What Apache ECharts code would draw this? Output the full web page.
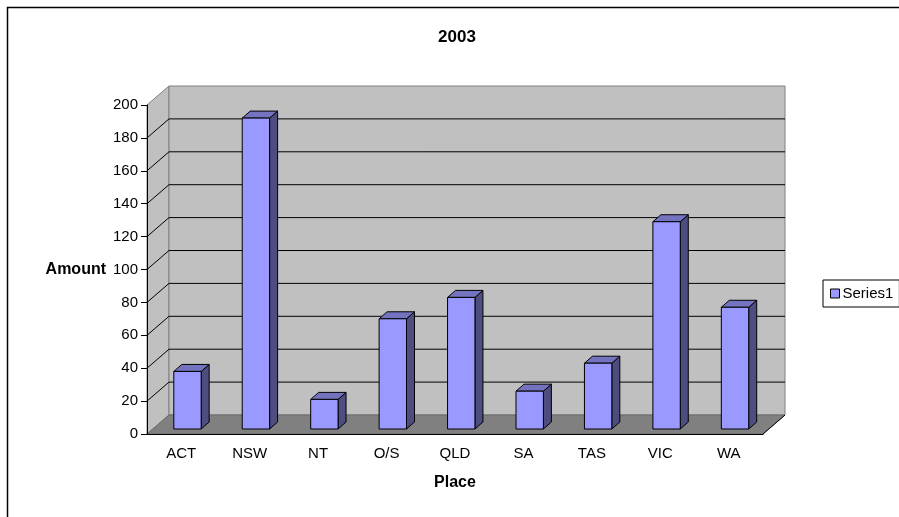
<!DOCTYPE html>
<html>
<head>
<meta charset="utf-8">
<script src="https://cdn.jsdelivr.net/npm/echarts@6/dist/echarts.min.js"></script>
<style>
  html, body { margin: 0; padding: 0; background: #fff; }
  #chart { width: 899px; height: 517px; }
</style>
</head>
<body>
<div id="chart"></div>
<script>
var categories = ['ACT', 'NSW', 'NT', 'O/S', 'QLD', 'SA', 'TAS', 'VIC', 'WA'];
var amounts = [35, 189, 18, 67, 80, 23, 40, 126, 74];
var gridValues = [20, 40, 60, 80, 100, 120, 140, 160, 180];
var yMax = 200;

var font = 'Liberation Sans, Arial, sans-serif';
// depth of the 3d box and of the bars, in pixels
var wallDepth = [22, -19];
var barShift = [6.25, -5];
var barDepth = [8, -7];

function plotEdges(api) {
    var band = api.size([1, 0])[0];
    var c0 = api.coord([0, 0]);
    return {
        left: c0[0] - band / 2,
        right: api.coord([categories.length - 1, 0])[0] + band / 2,
        y0: c0[1],
        band: band
    };
}

// back wall, left wall and floor
function renderWalls(params, api) {
    var e = plotEdges(api);
    var dx = wallDepth[0], dy = wallDepth[1];
    var yTop = api.coord([0, api.value(1)])[1];
    return {
        type: 'group',
        children: [{
            type: 'polygon',
            shape: { points: [[e.left, e.y0], [e.left, yTop], [e.left + dx, yTop + dy], [e.left + dx, e.y0 + dy]] },
            style: { fill: '#c0c0c0', stroke: '#808080', lineWidth: 1 }
        }, {
            type: 'polygon',
            shape: { points: [[e.left + dx, yTop + dy], [e.right + dx, yTop + dy], [e.right + dx, e.y0 + dy], [e.left + dx, e.y0 + dy]] },
            style: { fill: '#c0c0c0', stroke: '#808080', lineWidth: 1 }
        }, {
            type: 'polygon',
            shape: { points: [[e.left, e.y0], [e.right, e.y0], [e.right + dx, e.y0 + dy], [e.left + dx, e.y0 + dy]] },
            style: { fill: '#808080', stroke: '#6a6a6a', lineWidth: 1 }
        }, {
            type: 'line',
            shape: { x1: e.right, y1: e.y0, x2: e.right + dx, y2: e.y0 + dy },
            style: { stroke: '#000', lineWidth: 1 }
        }]
    };
}

// gridlines running along the left wall and the back wall
function renderGrid(params, api) {
    var e = plotEdges(api);
    var dx = wallDepth[0], dy = wallDepth[1];
    var y = api.coord([0, api.value(1)])[1];
    return {
        type: 'polyline',
        shape: { points: [[e.left, y], [e.left + dx, y + dy], [e.right + dx, y + dy]] },
        style: { stroke: '#000', lineWidth: 1, fill: null }
    };
}

function renderBar(params, api) {
    var e = plotEdges(api);
    var base = api.coord([api.value(0), 0]);
    var top = api.coord([api.value(0), api.value(1)]);
    var w = e.band * 0.4;
    var x0 = base[0] + barShift[0] - w / 2, x1 = x0 + w;
    var yb = base[1] + barShift[1], yt = top[1] + barShift[1];
    var dx = barDepth[0], dy = barDepth[1];
    var edge = { stroke: '#000', lineWidth: 1 };
    return {
        type: 'group',
        children: [{
            type: 'polygon',
            shape: { points: [[x1, yb], [x1 + dx, yb + dy], [x1 + dx, yt + dy], [x1, yt]] },
            style: Object.assign({ fill: '#4d4d80' }, edge)
        }, {
            type: 'polygon',
            shape: { points: [[x0, yt], [x1, yt], [x1 + dx, yt + dy], [x0 + dx, yt + dy]] },
            style: Object.assign({ fill: '#7373bf' }, edge)
        }, {
            type: 'polygon',
            shape: { points: [[x0, yb], [x1, yb], [x1, yt], [x0, yt]] },
            style: Object.assign({ fill: '#9999ff' }, edge)
        }]
    };
}

var chart = echarts.init(document.getElementById('chart'));
var option = {
    backgroundColor: '#fff',
    animation: false,
    textStyle: { fontFamily: font },
    title: {
        text: '2003',
        left: 457,
        top: 29,
        padding: 0,
        textAlign: 'center',
        textStyle: { fontFamily: font, fontSize: 17, fontWeight: 'bold', color: '#000' }
    },
    graphic: [{
        type: 'rect',
        shape: { x: 7.5, y: 7.5, width: 1000, height: 1000 },
        style: { fill: null, stroke: '#000', lineWidth: 1.5 },
        silent: true
    }],
    legend: {
        left: 823,
        top: 280,
        padding: [6, 6, 6, 7],
        borderColor: '#000',
        borderWidth: 1,
        backgroundColor: '#fff',
        itemWidth: 9,
        itemHeight: 9,
        itemGap: 3,
        icon: 'rect',
        textStyle: { fontFamily: font, fontSize: 15, color: '#000', padding: [0, 0, 0, -2] },
        data: [{ name: 'Series1', itemStyle: { color: '#9999ff', borderColor: '#000', borderWidth: 1 } }]
    },
    grid: { left: 147, right: 136, top: 105, bottom: 83 },
    xAxis: {
        type: 'category',
        data: categories,
        name: 'Place',
        nameLocation: 'middle',
        nameGap: 41,
        nameTextStyle: { fontFamily: font, fontSize: 16, fontWeight: 'bold', color: '#000' },
        axisLine: { lineStyle: { color: '#000', width: 1 } },
        axisTick: { length: 5, lineStyle: { color: '#000' } },
        axisLabel: { margin: 12, fontFamily: font, fontSize: 15, color: '#000' },
        z: 10
    },
    yAxis: {
        type: 'value',
        min: 0,
        max: yMax,
        interval: 20,
        name: 'Amount',
        nameLocation: 'middle',
        nameRotate: 0,
        nameGap: 41,
        nameTextStyle: { fontFamily: font, fontSize: 16, fontWeight: 'bold', color: '#000' },
        axisLine: { show: true, lineStyle: { color: '#000', width: 1 } },
        axisTick: { show: true, length: 6, lineStyle: { color: '#000' } },
        axisLabel: { margin: 9, fontFamily: font, fontSize: 15, color: '#000' },
        splitLine: { show: false },
        z: 10
    },
    series: [{
        type: 'custom',
        z: 1,
        clip: false,
        silent: true,
        renderItem: renderWalls,
        data: [[0, yMax]]
    }, {
        type: 'custom',
        z: 2,
        clip: false,
        silent: true,
        renderItem: renderGrid,
        data: gridValues.map(function (v) { return [0, v]; })
    }, {
        type: 'custom',
        name: 'Series1',
        z: 3,
        clip: false,
        renderItem: renderBar,
        itemStyle: { color: '#9999ff' },
        data: amounts.map(function (v, i) { return [i, v]; })
    }]
};
chart.setOption(option);
</script>
</body>
</html>
